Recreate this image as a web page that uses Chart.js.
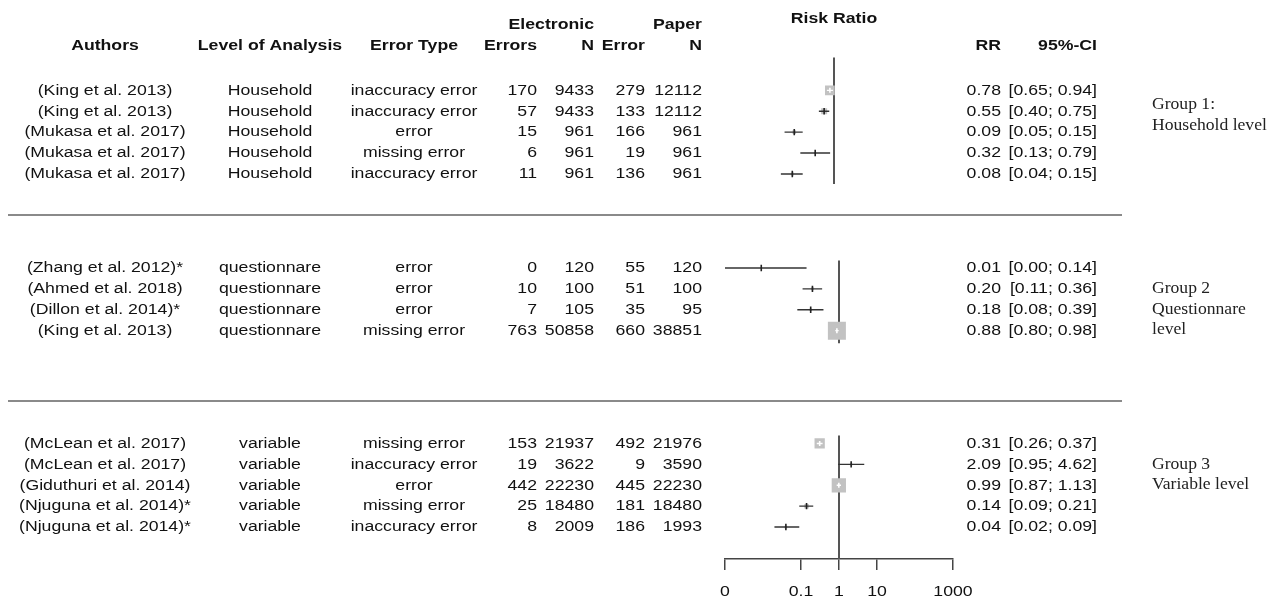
<!DOCTYPE html>
<html>
<head>
<meta charset="utf-8">
<script src="https://cdn.jsdelivr.net/npm/chart.js@4.4.1/dist/chart.umd.min.js"></script>
<style>
  html, body { margin: 0; padding: 0; background: #fff; }
  #wrap { width: 1276px; height: 599px; }
</style>
</head>
<body>
<div id="wrap"><canvas id="forest" width="1276" height="599"></canvas></div>
<script>
// study data
const authors = [
    '(King et al. 2013)', '(King et al. 2013)', '(Mukasa et al. 2017)', '(Mukasa et al. 2017)', '(Mukasa et al. 2017)',
    '(Zhang et al. 2012)*', '(Ahmed et al. 2018)', '(Dillon et al. 2014)*', '(King et al. 2013)',
    '(McLean et al. 2017)', '(McLean et al. 2017)', '(Giduthuri et al. 2014)', '(Njuguna et al. 2014)*', '(Njuguna et al. 2014)*'
];
const levels = [
    'Household', 'Household', 'Household', 'Household', 'Household',
    'questionnare', 'questionnare', 'questionnare', 'questionnare',
    'variable', 'variable', 'variable', 'variable', 'variable'
];
const errorTypes = [
    'inaccuracy error', 'inaccuracy error', 'error', 'missing error', 'inaccuracy error',
    'error', 'error', 'error', 'missing error',
    'missing error', 'inaccuracy error', 'error', 'missing error', 'inaccuracy error'
];
const eErrors = [170, 57, 15, 6, 11, 0, 10, 7, 763, 153, 19, 442, 25, 8];
const eN = [9433, 9433, 961, 961, 961, 120, 100, 105, 50858, 21937, 3622, 22230, 18480, 2009];
const pErrors = [279, 133, 166, 19, 136, 55, 51, 35, 660, 492, 9, 445, 181, 186];
const pN = [12112, 12112, 961, 961, 961, 120, 100, 95, 38851, 21976, 3590, 22230, 18480, 1993];
const rr = [0.78, 0.55, 0.09, 0.32, 0.08, 0.009, 0.20, 0.18, 0.88, 0.31, 2.09, 0.99, 0.14, 0.04];
const ciLow = [0.65, 0.40, 0.05, 0.13, 0.04, 0.0005, 0.11, 0.08, 0.80, 0.26, 0.95, 0.87, 0.09, 0.02];
const ciHigh = [0.94, 0.75, 0.15, 0.79, 0.15, 0.14, 0.36, 0.39, 0.98, 0.37, 4.62, 1.13, 0.21, 0.09];
// approximate inverse-variance weights (drive square size)
const weights = [106, 40, 14, 4.6, 10, 0.5, 10, 6.6, 360, 117, 6.1, 226, 22, 7.7];
const groupOf = [0, 0, 0, 0, 0, 1, 1, 1, 1, 2, 2, 2, 2, 2];
const groupLabels = [
    ['Group 1:', 'Household level'],
    ['Group 2', 'Questionnare', 'level'],
    ['Group 3', 'Variable level']
];
const tickValues = [0.001, 0.1, 1, 10, 1000];
const tickLabels = ['0', '0.1', '1', '10', '1000'];

// layout (pixels / row units)
const TOP = 10, AXIS_Y = 559, ROW0_Y = 88, ROW_H = 21;
const GROUP_START = [0, 8.5, 16.9];
const REF_SPANS = [[-1.57, 4.48], [8.14, 12.1], [16.52, (AXIS_Y - ROW0_Y) / ROW_H]];
const SEPARATORS = [5.95, 14.85];
const GROUP_LABEL_ROW = [0.7, 9.5, 17.9];
const GROUP1_SHIFT = Math.pow(10, 5 / 38); // group 1 panel sits ~5px left in the source
const SX = 1.14;
const SANS = '"Liberation Sans", Arial, sans-serif';
const SERIF = '"Liberation Serif", "Times New Roman", serif';

const rows = [];
let counter = [0, 0, 0];
groupOf.forEach(g => { rows.push(GROUP_START[g] + counter[g]); counter[g]++; });

const side = w => 0.95 * Math.sqrt(w);
const inside = weights.map(w => side(w) > 8);

function txt(ctx, s, x, y, align, font, sx) {
    ctx.save();
    ctx.font = font;
    ctx.translate(x, y);
    ctx.scale(sx || SX, 1);
    ctx.textAlign = align;
    ctx.textBaseline = 'middle';
    ctx.fillText(s, 0, 0);
    ctx.restore();
}

// squares, CI lines and point ticks for a set of studies on one x axis
function studySets(idx, axis) {
    const ci = [];
    idx.forEach(i => ci.push({ x: ciLow[i], y: rows[i] }, { x: ciHigh[i], y: rows[i] }, { x: null, y: null }));
    const pts = idx.map(i => ({ x: rr[i], y: rows[i] }));
    return [
        {
            data: pts,
            xAxisID: axis,
            pointStyle: 'rect',
            pointRadius: c => side(weights[idx[c.dataIndex]]) / Math.SQRT2,
            backgroundColor: '#c2c2c2',
            borderWidth: 0,
            order: 3
        },
        {
            type: 'line',
            data: ci,
            xAxisID: axis,
            borderColor: '#333',
            borderWidth: 1.4,
            pointRadius: 0,
            spanGaps: false,
            segment: {
                borderColor: c => inside[idx[Math.floor(c.p0DataIndex / 3)]] ? '#fff' : '#333'
            },
            order: 2
        },
        {
            data: pts,
            xAxisID: axis,
            pointStyle: 'line',
            rotation: 90,
            pointRadius: c => inside[idx[c.dataIndex]] ? 2.5 : 3.2,
            borderColor: c => inside[idx[c.dataIndex]] ? '#fff' : '#222',
            borderWidth: 1.6,
            order: 1
        }
    ];
}

const idxG1 = [], idxRest = [];
groupOf.forEach((g, i) => (g === 0 ? idxG1 : idxRest).push(i));

const refG1 = [{ x: 1, y: REF_SPANS[0][0] }, { x: 1, y: REF_SPANS[0][1] }];
const refRest = [];
REF_SPANS.slice(1).forEach(s => refRest.push({ x: 1, y: s[0] }, { x: 1, y: s[1] }, { x: null, y: null }));

const tablePlugin = {
    id: 'table',
    afterDraw(chart) {
        const ctx = chart.ctx;
        const ys = chart.scales.y, xs = chart.scales.x;
        const reg = '15.5px ' + SANS, bold = 'bold 15.5px ' + SANS;
        ctx.fillStyle = '#111';

        // headers
        txt(ctx, 'Electronic', 594, 25, 'right', bold);
        txt(ctx, 'Paper', 702, 25, 'right', bold);
        txt(ctx, 'Risk Ratio', 834, 19, 'center', bold);
        txt(ctx, 'Authors', 105, 46, 'center', bold);
        txt(ctx, 'Level of Analysis', 270, 46, 'center', bold);
        txt(ctx, 'Error Type', 414, 46, 'center', bold);
        txt(ctx, 'Errors', 537, 46, 'right', bold);
        txt(ctx, 'N', 594, 46, 'right', bold);
        txt(ctx, 'Error', 645, 46, 'right', bold);
        txt(ctx, 'N', 702, 46, 'right', bold);
        txt(ctx, 'RR', 1001, 46, 'right', bold);
        txt(ctx, '95%-CI', 1097, 46, 'right', bold);

        // rows
        rr.forEach((v, i) => {
            const y = ys.getPixelForValue(rows[i]);
            txt(ctx, authors[i], 105, y, 'center', reg);
            txt(ctx, levels[i], 270, y, 'center', reg);
            txt(ctx, errorTypes[i], 414, y, 'center', reg);
            txt(ctx, String(eErrors[i]), 537, y, 'right', reg);
            txt(ctx, String(eN[i]), 594, y, 'right', reg);
            txt(ctx, String(pErrors[i]), 645, y, 'right', reg);
            txt(ctx, String(pN[i]), 702, y, 'right', reg);
            txt(ctx, v.toFixed(2), 1001, y, 'right', reg);
            txt(ctx, '[' + ciLow[i].toFixed(2) + '; ' + ciHigh[i].toFixed(2) + ']', 1097, y, 'right', reg);
        });

        // group separators
        ctx.save();
        ctx.strokeStyle = '#8a8a8a';
        ctx.lineWidth = 2;
        SEPARATORS.forEach(r => {
            const y = Math.round(ys.getPixelForValue(r));
            ctx.beginPath();
            ctx.moveTo(8, y);
            ctx.lineTo(1122, y);
            ctx.stroke();
        });
        ctx.restore();

        // group labels
        ctx.fillStyle = '#222';
        groupLabels.forEach((lines, g) => {
            const y0 = ys.getPixelForValue(GROUP_LABEL_ROW[g]);
            lines.forEach((l, k) => txt(ctx, l, 1152, y0 + k * 20.5, 'left', '16px ' + SERIF, 1.1));
        });

        // axis tick labels
        ctx.fillStyle = '#111';
        tickValues.forEach((v, k) => {
            txt(ctx, tickLabels[k], xs.getPixelForValue(v), 592, 'center', reg);
        });
    }
};

document.addEventListener('DOMContentLoaded', function () {
    const ctx = document.getElementById('forest').getContext('2d');
    const refStyle = { type: 'line', borderColor: '#555', borderWidth: 2, pointRadius: 0, spanGaps: false, order: 4 };
    new Chart(ctx, {
        type: 'scatter',
        data: {
            datasets: [
                Object.assign({ data: refG1, xAxisID: 'x1' }, refStyle),
                Object.assign({ data: refRest, xAxisID: 'x' }, refStyle),
                ...studySets(idxG1, 'x1'),
                ...studySets(idxRest, 'x')
            ]
        },
        options: {
            responsive: false,
            animation: false,
            events: [],
            layout: { padding: { left: 725, right: 323, top: TOP, bottom: 29 } },
            plugins: {
                legend: { display: false },
                tooltip: { enabled: false }
            },
            scales: {
                x: {
                    type: 'logarithmic',
                    position: 'bottom',
                    min: 0.001,
                    max: 1000,
                    afterBuildTicks: s => { s.ticks = tickValues.map(v => ({ value: v })); },
                    grid: { drawOnChartArea: false, drawTicks: true, tickLength: 11, color: '#444', lineWidth: 1.5 },
                    border: { display: true, color: '#444', width: 1.5 },
                    ticks: { display: false }
                },
                x1: {
                    type: 'logarithmic',
                    display: false,
                    min: 0.001 * GROUP1_SHIFT,
                    max: 1000 * GROUP1_SHIFT
                },
                y: {
                    type: 'linear',
                    display: false,
                    reverse: true,
                    min: (TOP - ROW0_Y) / ROW_H,
                    max: (AXIS_Y - ROW0_Y) / ROW_H
                }
            }
        },
        plugins: [tablePlugin]
    });
});
</script>
</body>
</html>
